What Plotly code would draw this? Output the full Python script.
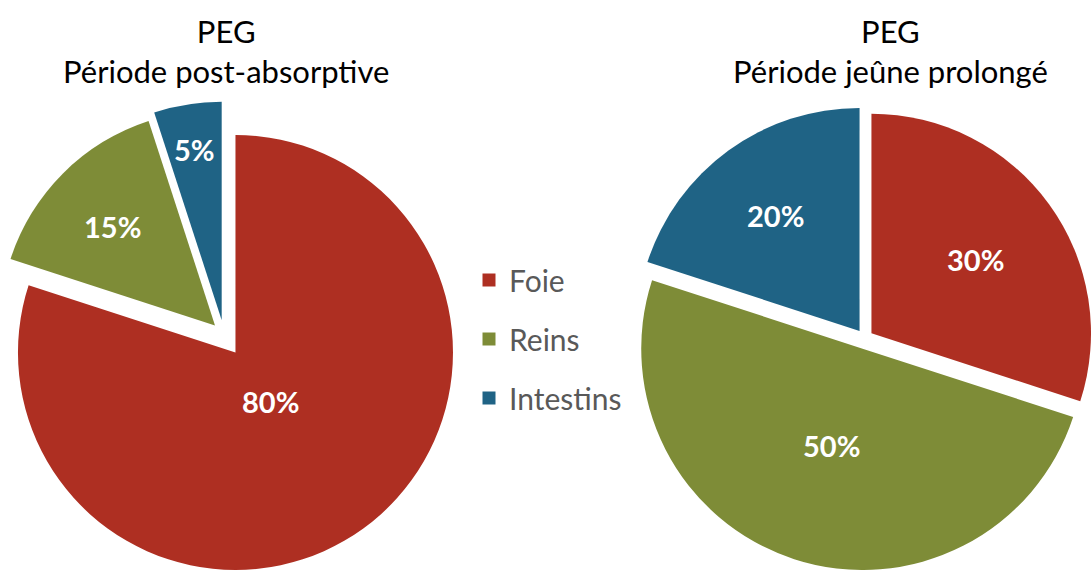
import math
import plotly.graph_objects as go

labels = ["Foie", "Reins", "Intestins"]
post_absorptive = [80, 15, 5]
jeune_prolonge = [30, 50, 20]
colors = ["#AE2F22", "#7E8C37", "#1F6385"]
titles = ["PEG<br>Période post-absorptive", "PEG<br>Période jeûne prolongé"]

W, H = 1091, 570
FONT = "Lato"

# layout of each pie (pixels): centre, radius, explosion distance,
# label distance (fraction of radius along the slice bisector), title centre
pies = [
    dict(values=post_absorptive, title=titles[0], cx=224.6, cy=338.5, R=218.5,
         pull=18.5, label_r=[0.27, 0.64, 0.79], title_x=226),
    dict(values=jeune_prolonge, title=titles[1], cx=866.0, cy=339.8, R=223.0,
         pull=11.0, label_r=[0.56, 0.45, 0.64], title_x=890),
]

fig = go.Figure()

for p in pies:
    vals = p["values"]
    total = float(sum(vals))
    cum = 0.0
    for i, v in enumerate(vals):
        mid = (cum + v / 2.0) / total * 2 * math.pi
        cum += v
        dx, dy = math.sin(mid), -math.cos(mid)
        scx = p["cx"] + p["pull"] * dx
        scy = p["cy"] + p["pull"] * dy
        R = p["R"]
        x0, x1 = max(0.0, scx - R), min(W, scx + R)
        y0, y1 = max(0.0, scy - R), min(H, scy + R)
        slice_colors = [c if j == i else "rgba(0,0,0,0)" for j, c in enumerate(colors)]
        fig.add_trace(go.Pie(
            labels=labels, values=vals, sort=False, direction="clockwise",
            rotation=0, marker=dict(colors=slice_colors, line=dict(width=0)),
            textinfo="none", domain=dict(x=[x0 / W, x1 / W], y=[1 - y1 / H, 1 - y0 / H]),
            showlegend=False, hoverinfo="label+percent",
        ))
        lx = scx + p["label_r"][i] * R * dx
        ly = scy + p["label_r"][i] * R * dy
        fig.add_annotation(
            text=f"{v}%", x=lx / W, y=1 - ly / H, xref="paper", yref="paper",
            xanchor="center", yanchor="middle", showarrow=False,
            font=dict(family=FONT, size=29, color="white", weight="bold"),
        )
    fig.add_annotation(
        text=p["title"], x=p["title_x"] / W, y=1 - 10 / H, xref="paper", yref="paper",
        xanchor="center", yanchor="top", showarrow=False,
        font=dict(family=FONT, size=31, color="#000000"),
    )

# legend entries
for lab, col in zip(labels, colors):
    fig.add_trace(go.Scatter(
        x=[None], y=[None], mode="markers", name=lab, legendgroup=lab,
        marker=dict(symbol="square", size=13, color=col),
    ))

fig.update_layout(
    width=W, height=H, margin=dict(l=0, r=0, t=0, b=0),
    paper_bgcolor="white", plot_bgcolor="white",
    xaxis=dict(visible=False), yaxis=dict(visible=False),
    legend=dict(x=469 / W, y=1 - 254 / H, xanchor="left", yanchor="top",
                font=dict(family=FONT, size=30, color="#595959"),
                tracegroupgap=17, itemwidth=30, bgcolor="rgba(0,0,0,0)"),
)

fig.write_html("out.html", config={"displayModeBar": False},
               post_script="document.body.style.margin='0px';")
